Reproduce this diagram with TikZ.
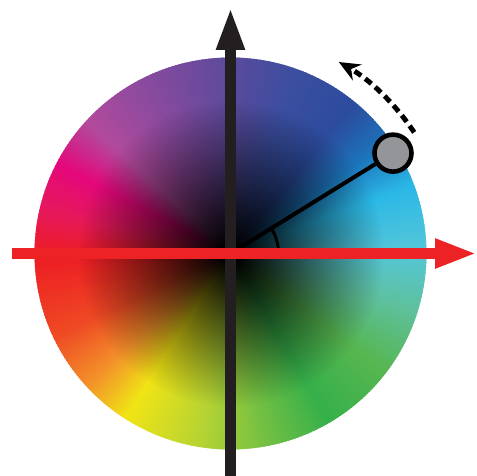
\documentclass[tikz,border=0pt]{standalone}
\usetikzlibrary{arrows.meta,fadings}
\definecolor{axisdark}{HTML}{231F20}
\definecolor{axisred}{HTML}{ED2224}
\definecolor{knobgrey}{HTML}{939598}
% colours round the rim of the wheel
\definecolor{wc000}{HTML}{55C6D8}
\definecolor{wc020}{HTML}{2BB8E6}
\definecolor{wc035}{HTML}{1C74BA}
\definecolor{wc050}{HTML}{2C4C9E}
\definecolor{wc070}{HTML}{3C4EA0}
\definecolor{wc090}{HTML}{5C4A9C}
\definecolor{wc120}{HTML}{904A9E}
\definecolor{wc137}{HTML}{B24A9C}
\definecolor{wc152}{HTML}{E4087C}
\definecolor{wc167}{HTML}{E6195A}
\definecolor{wc180}{HTML}{ED1C24}
\definecolor{wc205}{HTML}{EF4A24}
\definecolor{wc222}{HTML}{F3902A}
\definecolor{wc237}{HTML}{F0E415}
\definecolor{wc260}{HTML}{B8D432}
\definecolor{wc280}{HTML}{74C043}
\definecolor{wc300}{HTML}{36B04A}
\definecolor{wc322}{HTML}{56B650}
\definecolor{wc342}{HTML}{5EC09C}
\pgfdeclareradialshading{coreshade}{\pgfpointorigin}{color(0bp)=(white); color(1bp)=(white); color(19.5bp)=(black); color(25bp)=(black); color(50bp)=(black)}
\pgfdeclarefading{darkcore}{\pgfuseshading{coreshade}}

\begin{document}
\begin{tikzpicture}[x=0.02cm,y=0.02cm,
    axis/.style={line width=6pt},
    knob/.style={circle,draw=black,fill=knobgrey,line width=2.6pt,minimum size=0.74cm,inner sep=0pt},
    swing/.style={line width=2.8pt,dash pattern=on 0.16cm off 0.1cm,-{Stealth[length=0.42cm,width=0.36cm]}}]
  \useasboundingbox (-230.5,-222.5) rectangle (246.5,253.5);
  \coordinate (O) at (0,0);
  % hue wheel
  \foreach \a/\ca/\b/\cb in {0/wc000/20/wc020,20/wc020/35/wc035,35/wc035/50/wc050,50/wc050/70/wc070,
      70/wc070/90/wc090,90/wc090/120/wc120,120/wc120/137/wc137,137/wc137/152/wc152,152/wc152/167/wc167,
      167/wc167/180/wc180,180/wc180/205/wc205,205/wc205/222/wc222,222/wc222/237/wc237,237/wc237/260/wc260,
      260/wc260/280/wc280,280/wc280/300/wc300,300/wc300/322/wc322,322/wc322/342/wc342,342/wc342/360/wc000}{
    \pgfmathtruncatemacro\n{\b-\a-1}
    \foreach \k in {0,...,\n}{
      \pgfmathsetmacro\p{100*\k/(\b-\a)}
      \fill[\cb!\p!\ca] (O) -- (\a+\k:196) arc[start angle=\a+\k,end angle=\a+\k+1.6,radius=196] -- cycle;
    }
  }
  % dark middle
  \fill[black,path fading=darkcore] (O) circle (196);
  % vertical axis
  \coordinate (ybot) at (0,-222.5);
  \coordinate (ytop) at (0,246.5);
  \draw[axis,axisdark,-{Triangle[length=0.86cm,width=0.52cm]}] (ybot) -- (ytop);
  % phase pointer
  \node[knob] (knob) at (31.7:191) {};
  \draw[line width=2.3pt] (O) -- (knob);
  \coordinate (arcstart) at (48,0);
  \draw[line width=1.7pt] (arcstart) arc[start angle=0,end angle=31.7,radius=48];
  % horizontal axis
  \coordinate (xleft) at (-218.5,0);
  \coordinate (xright) at (246.5,0);
  \draw[axis,axisred,-{Triangle[length=0.84cm,width=0.54cm]}] (xleft) -- (xright);
  % turning direction
  \coordinate (swingstart) at (33.4:220);
  \draw[swing] (swingstart) arc[start angle=33.4,end angle=60.5,radius=220];
\end{tikzpicture}
\end{document}
